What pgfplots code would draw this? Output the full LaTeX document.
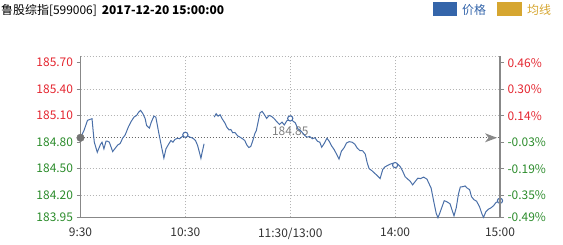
\documentclass[border=0pt]{standalone}
\usepackage{pgfplots}
\pgfplotsset{compat=1.18}
\usepackage{fontspec}
\setmainfont{Noto Sans CJK SC}
\definecolor{lineblue}{RGB}{74,111,168}
\definecolor{legblue}{RGB}{52,101,170}
\definecolor{leggold}{RGB}{214,166,48}
\definecolor{upred}{RGB}{228,38,48}
\definecolor{dngreen}{RGB}{44,140,44}
\definecolor{axgray}{RGB}{136,136,136}
\definecolor{gridc}{RGB}{180,180,180}
\pgfplotsset{
  myax/.style={
    scale only axis, width=419.5bp, height=160.8bp,
    at={(80.5bp,27.7bp)}, anchor=south west,
    xmin=0, xmax=240, ymin=183.95, ymax=185.77, clip=false,
    axis line style={axgray, line width=1.6bp},
    tick align=outside, major tick length=4bp,
    y tick style={axgray, line width=1bp},
    x tick style={draw=none},
    tick label style={font=\fontsize{12}{14}\selectfont},
    ytick={183.95,184.20,184.50,184.80,185.10,185.40,185.70},
  }
}
\begin{document}
\begin{tikzpicture}
\useasboundingbox (0bp,0bp) rectangle (563bp,245bp);
\begin{axis}[myax,
  axis x line*=bottom, axis y line*=left,
  xtick={0,60,120,180,240},
  xticklabels={9:30,10:30,11:30/13:00,14:00,15:00},
  xticklabel style={text=black!80, yshift=-3bp},
  yticklabels={\textcolor{dngreen}{183.95},\textcolor{dngreen}{184.20},\textcolor{dngreen}{184.50},\textcolor{dngreen}{184.80},\textcolor{upred}{185.10},\textcolor{upred}{185.40},\textcolor{upred}{185.70}},
]
% grid
\draw[gridc, line width=0.8bp, dash pattern=on 1bp off 2bp] (axis cs:0,185.77) -- (axis cs:240,185.77);
\draw[gridc, line width=0.8bp, dash pattern=on 1bp off 2bp] (axis cs:0,185.40) -- (axis cs:240,185.40);
\draw[gridc, line width=0.8bp, dash pattern=on 1bp off 2bp] (axis cs:0,185.10) -- (axis cs:240,185.10);
\draw[gridc, line width=0.8bp, dash pattern=on 1bp off 2bp] (axis cs:0,184.50) -- (axis cs:240,184.50);
\draw[gridc, line width=0.8bp, dash pattern=on 1bp off 2bp] (axis cs:0,184.20) -- (axis cs:240,184.20);
\draw[gridc, line width=0.8bp, dash pattern=on 1bp off 2bp] (axis cs:60,183.95) -- (axis cs:60,185.77);
\draw[gridc, line width=0.8bp, dash pattern=on 1bp off 2bp] (axis cs:120,183.95) -- (axis cs:120,185.77);
\draw[gridc, line width=0.8bp, dash pattern=on 1bp off 2bp] (axis cs:180,183.95) -- (axis cs:180,185.77);
% previous close line
\draw[black!60, line width=0.9bp, dash pattern=on 1bp off 2bp] (axis cs:0,184.85) -- (axis cs:240,184.85);
\fill[axgray] (axis cs:240,184.85) ++(-3bp,0bp) -- ++(-12bp,4.5bp) -- ++(3.5bp,-4.5bp) -- ++(-3.5bp,-4.5bp) -- cycle;
\node[text=black!50, font=\fontsize{12}{14}\selectfont, yshift=7bp] at (axis cs:120,184.85) {184.85};
% price
\addplot[lineblue, line width=1bp, mark=none] coordinates {
(0,184.85) (2.0,184.933) (4.0,185.047) (5.4,185.058) (6.6,185.066) (7.3,184.914) (7.9,184.80) (9.6,184.686) (11.4,184.774) (12.3,184.80) (13.4,184.725) (14.6,184.811) (15.4,184.811) (16.5,184.80) (18.4,184.694) (20.3,184.743) (21.4,184.770) (22.7,184.785) (24.1,184.845) (25.6,184.884) (27.5,184.978) (29.0,185.035) (30.6,185.084) (32.1,185.103) (33.3,185.141) (34.4,185.160) (35.7,185.123) (37.0,185.066) (37.8,184.990) (39.4,184.959) (40.5,185.027) (42.0,185.095) (43.1,185.084) (44.7,184.914) (46.2,184.763) (47.7,184.620) (48.9,184.725) (50.2,184.770) (51.7,184.819) (52.9,184.800) (54.0,184.831) (55.5,184.845) (56.7,184.839) (57.8,184.857) (59.0,184.876) (60,184.884) (61.3,184.870) (62.7,184.857) (64.3,184.845) (65.8,184.819) (67.0,184.763) (68.1,184.680) (68.9,184.618) (69.6,184.686) (70.7,184.782)
};
\addplot[lineblue, line width=1bp, mark=none] coordinates {
(76.5,185.084) (77.6,185.123) (78.7,185.095) (79.9,185.111) (81.0,185.066) (82.6,185.018) (83.7,184.970) (85.0,184.939) (86.0,184.944) (87.1,184.907) (88.3,184.910) (90.0,184.870) (91.3,184.857) (92.9,184.836) (94.0,184.819) (95.1,184.770) (96.3,184.740) (97.4,184.751) (98.6,184.819) (99.7,184.895) (100.6,184.933) (101.5,185.018) (102.7,185.132) (103.9,185.149) (105.3,185.109) (106.5,185.069) (107.9,185.103) (109.3,185.092) (110.7,185.069) (112.3,185.032) (113.8,185.001) (115.3,185.027) (116.6,184.995) (118.0,185.041) (120,185.069) (121.3,185.044) (122.9,185.018) (124.4,184.950) (125.8,184.933) (127.0,184.907) (128.3,184.876) (129.6,184.857) (131.1,184.865) (132.7,184.839) (134.1,184.851) (135.6,184.810) (136.9,184.800) (138.0,184.743) (139.6,184.791) (141.0,184.845) (142.3,184.810) (143.7,184.757) (145.1,184.717) (146.4,184.668) (147.9,184.609) (149.3,184.700) (150.7,184.734) (152.2,184.791) (153.7,184.806) (155.4,184.800) (156.9,184.778) (158.3,184.734) (159.8,184.706) (161.4,184.703) (162.9,184.666) (164.0,184.569) (165.1,184.501) (166.7,184.478) (168.3,184.448) (169.8,184.422) (171.4,184.388) (172.9,184.490) (174.0,184.518) (175.5,184.535) (177.1,184.551) (178.6,184.561) (180,184.541) (181.7,184.549) (182.9,184.524) (184.3,184.473) (185.7,184.410) (187.1,184.384) (188.6,184.359) (190.0,184.317) (191.4,184.353) (193.0,184.393) (194.6,184.388) (196.3,184.405) (198.2,184.382) (200.6,184.280) (202.0,184.138) (203.5,183.995) (204.5,183.945) (205.5,183.995) (206.7,184.061) (208.1,184.138) (209.6,184.126) (211.4,184.103) (212.7,184.024) (213.7,183.967) (215.0,184.061) (216.2,184.211) (217.3,184.293) (218.9,184.297) (220.0,184.305) (221.1,184.282) (222.6,184.263) (223.7,184.183) (225.1,184.149) (226.6,184.132) (228.3,184.069) (229.7,183.986) (230.6,183.950) (231.9,184.013) (233.3,184.041) (234.9,184.058) (236.3,184.081) (237.7,184.118) (239.4,184.134) (240,184.137)
};
\addplot[only marks, mark=*, mark size=2.6pt, mark options={draw=lineblue, fill=white, line width=1.1bp}] coordinates {(60,184.884) (120,185.069) (180,184.541) (240,184.137)};
\addplot[only marks, mark=*, mark size=3.8pt, color=black!55] coordinates {(0,184.85)};
\end{axis}
\begin{axis}[myax,
  axis x line=none, axis y line*=right,
  yticklabels={\textcolor{dngreen}{-0.49\%},\textcolor{dngreen}{-0.35\%},\textcolor{dngreen}{-0.19\%},\textcolor{dngreen}{-0.03\%},\textcolor{upred}{0.14\%},\textcolor{upred}{0.30\%},\textcolor{upred}{0.46\%}},
]
\end{axis}
% title and legend
\node[anchor=west, inner sep=0pt, font=\fontsize{12}{14}\selectfont] at (1bp,235bp) {鲁股综指[599006]\hspace{5bp}\textbf{2017-12-20 15:00:00}};
\fill[legblue] (433bp,229.3bp) rectangle (457bp,243.3bp);
\node[anchor=west, inner sep=0pt, text=legblue, font=\fontsize{12}{14}\selectfont] at (462bp,235bp) {价格};
\fill[leggold] (497bp,229.3bp) rectangle (522bp,243.3bp);
\node[anchor=west, inner sep=0pt, text=leggold, font=\fontsize{12}{14}\selectfont] at (527bp,235bp) {均线};
\end{tikzpicture}
\end{document}
